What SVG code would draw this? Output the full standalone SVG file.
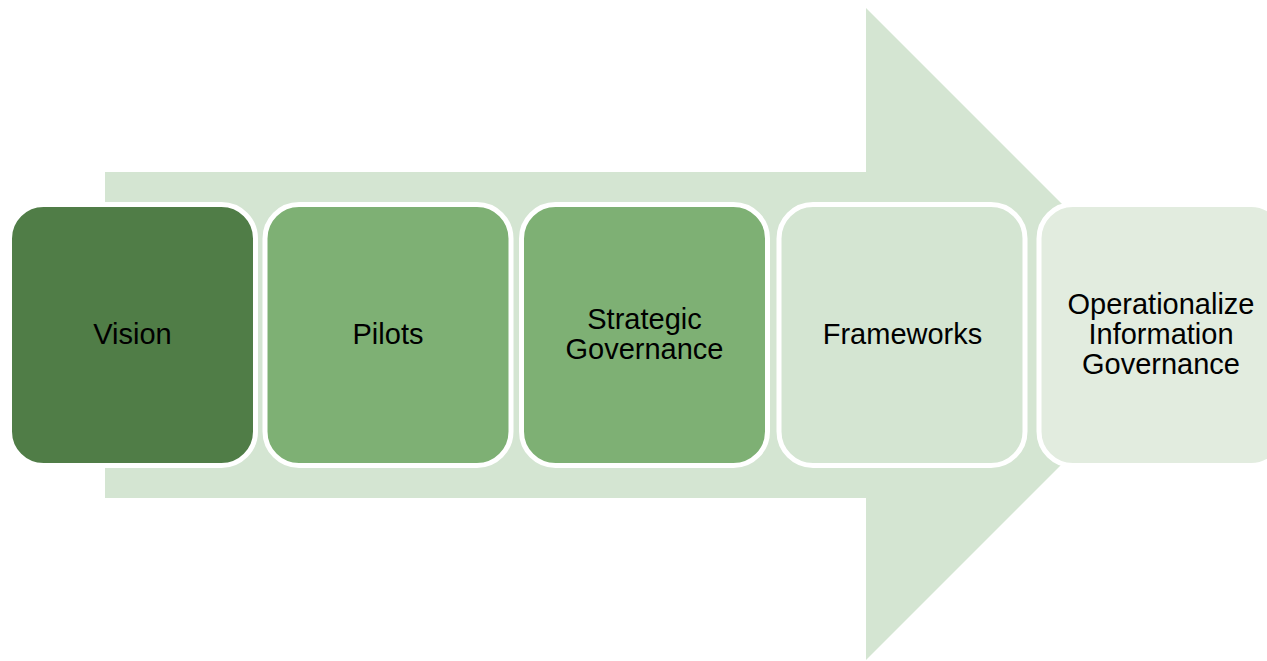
<svg xmlns="http://www.w3.org/2000/svg" width="1267" height="661" viewBox="0 0 1267 661">
<style>
.box{stroke:#ffffff;stroke-width:5}
.lbl{font-family:"Liberation Sans",Arial,sans-serif;font-size:29px;fill:#000000;text-anchor:middle}
</style>
<rect width="1267" height="661" fill="#ffffff"/>
<g id="arrow">
<polygon points="105,172 866,172 866,8 1192,334 866,660 866,498 105,498" fill="#d4e5d2"/>
</g>
<g id="connectors"></g>
<g id="node-vision">
<rect class="box" x="9.5" y="204.5" width="246" height="261" rx="34" fill="#507d47"/>
<text class="lbl" x="132.5" y="344">Vision</text>
</g>
<g id="node-pilots">
<rect class="box" x="265" y="204.5" width="246" height="261" rx="34" fill="#7eb074"/>
<text class="lbl" x="388" y="344">Pilots</text>
</g>
<g id="node-strategic">
<rect class="box" x="521.5" y="204.5" width="246" height="261" rx="34" fill="#7eb074"/>
<text class="lbl" x="644.5" y="329">Strategic</text>
<text class="lbl" x="644.5" y="359">Governance</text>
</g>
<g id="node-frameworks">
<rect class="box" x="779" y="204.5" width="246" height="261" rx="34" fill="#d4e5d2"/>
<text class="lbl" x="902.5" y="344">Frameworks</text>
</g>
<g id="node-operationalize">
<rect class="box" x="1039" y="204.5" width="246" height="261" rx="34" fill="#e2ecdf"/>
<text class="lbl" x="1161" y="314">Operationalize</text>
<text class="lbl" x="1161" y="344">Information</text>
<text class="lbl" x="1161" y="374">Governance</text>
</g>
</svg>
